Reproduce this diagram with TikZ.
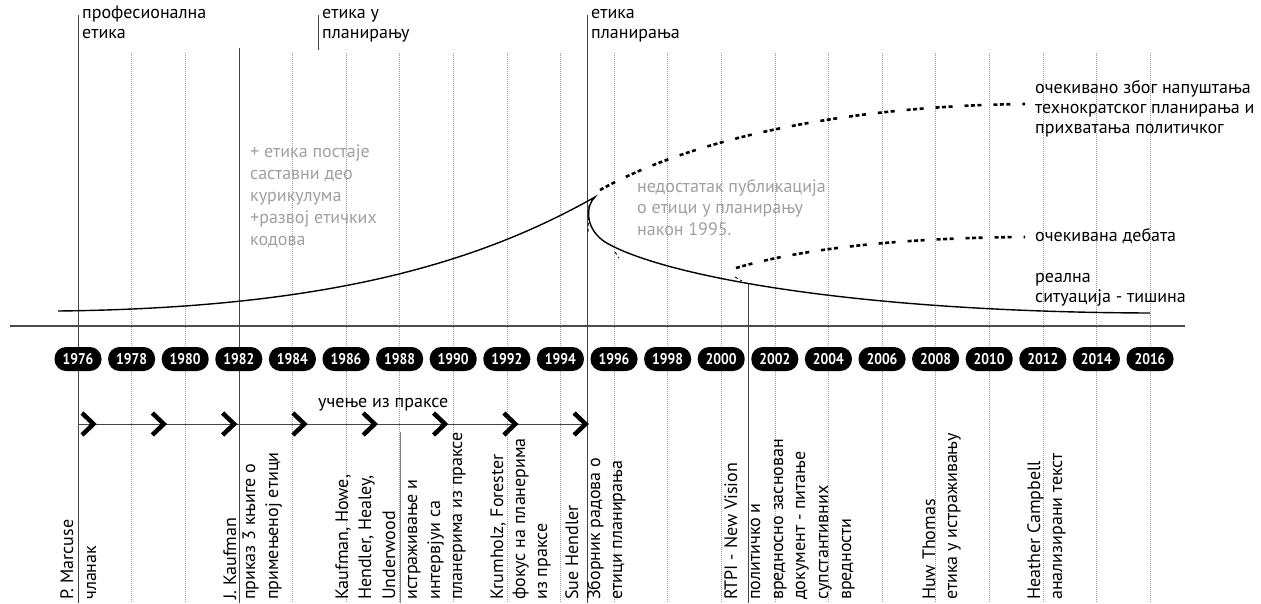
\documentclass[tikz,border=0pt]{standalone}
\usepackage{fontspec}
\setmainfont{PT Sans}
\newfontfamily\pillfont[FakeStretch=0.88]{PT Sans}
\definecolor{txtgrey}{HTML}{A0A0A0}
\definecolor{linegrey}{HTML}{444444}
\begin{document}
\begin{tikzpicture}[x=1pt,y=-1pt,
  gridline/.style={draw=black!40, line width=0.5pt, dash pattern=on 1pt off 1pt},
  mainline/.style={draw=linegrey, line width=0.9pt},
  pill/.style={fill=black, text=white, rounded corners=11.5pt, minimum width=47pt,
    minimum height=24pt, inner sep=0pt, font=\pillfont\bfseries\fontsize{15.5}{15.5}\selectfont},
  lbl/.style={font=\fontsize{18}{22}\selectfont, inner sep=0pt, anchor=base west},
  vlbl/.style={lbl, rotate=90},
  greylbl/.style={lbl, text=txtgrey},
  chev/.style={line width=4.5pt, line join=miter, line cap=butt},
  realcurve/.style={line width=1.4pt},
  dotcurve/.style={line width=2.6pt, dash pattern=on 4pt off 2.5pt on 4pt off 2.5pt on 4pt off 12pt},
  stray/.style={line width=0.9pt, dash pattern=on 3pt off 3pt}]
\useasboundingbox (0,0) rectangle (1261,603);

% grid lines
\foreach \yr in {1978,1980,1984,1986,1988,1990,1992,1994,1996,1998,2000,2002,2004,2006,2008,2010,2012,2014,2016}
  \draw[gridline] ({78+26.8*(\yr-1976)},53) -- ({78+26.8*(\yr-1976)},603);

% axis
\coordinate (axL) at (10,326);
\coordinate (axR) at (1185,326);
\draw[draw=black!70, line width=1.6pt] (axL) -- (axR);

% main vertical lines
\coordinate (v76t) at (78,15);   \coordinate (v76b) at (78,603);
\coordinate (v82t) at (239,48);  \coordinate (v82b) at (239,603);
\coordinate (v85t) at (318,15);  \coordinate (v85b) at (318,50);
\coordinate (v95t) at (587,15);  \coordinate (v95b) at (587,603);
\coordinate (v01t) at (748,283); \coordinate (v01b) at (748,603);
\coordinate (v88t) at (400,432); \coordinate (v88b) at (400,603);
\draw[mainline] (v76t) -- (v76b);
\draw[mainline] (v82t) -- (v82b);
\draw[mainline] (v85t) -- (v85b);
\draw[mainline] (v95t) -- (v95b);
\draw[mainline] (v01t) -- (v01b);
\draw[draw=black!50, line width=0.9pt] (v88t) -- (v88b);

% top labels
\node[lbl] (tl1a) at (82,18) {професионална};
\node[lbl] (tl1b) at (82,38) {етика};
\node[lbl] (tl2a) at (322,18) {етика у};
\node[lbl] (tl2b) at (322,38) {планирању};
\node[lbl] (tl3a) at (591,18) {етика};
\node[lbl] (tl3b) at (591,38) {планирања};

% curves
\coordinate (cStart) at (58,311);
\coordinate (cPeak) at (595,197);
\coordinate (cTurn) at (605,242);
\coordinate (cEnd) at (1150,313);
\draw[realcurve] (cStart) .. controls (330,308) and (480,262) .. (cPeak)
  .. controls (586,205) and (584,228) .. (cTurn)
  .. controls (660,275) and (850,312) .. (cEnd);

\coordinate (uStart) at (600,190);
\coordinate (uEnd) at (1025,104);
\draw[dotcurve] (uStart) .. controls (690,140) and (840,106) .. (uEnd);
\coordinate (lStart) at (736,268);
\coordinate (lEnd) at (1025,237);
\draw[dotcurve] (lStart) .. controls (790,252) and (880,238) .. (lEnd);

\coordinate (s1a) at (589,205); \coordinate (s1b) at (588,232);
\draw[stray] (s1a) -- (s1b);
\coordinate (s2a) at (615,252); \coordinate (s2b) at (619,258);
\draw[stray] (s2a) -- (s2b);
\coordinate (s3a) at (735,277); \coordinate (s3b) at (742,281);
\draw[stray] (s3a) -- (s3b);

% right labels
\node[lbl] (r1) at (1035,93) {очекивано због напуштања};
\node[lbl] (r2) at (1035,113) {технократског планирања и};
\node[lbl] (r3) at (1035,133) {прихватања политичког};
\node[lbl] (r4) at (1035,241) {очекивана дебата};
\node[lbl] (r5) at (1035,282) {реална};
\node[lbl] (r6) at (1035,302) {ситуација - тишина};

% grey labels
\node[greylbl] (g1) at (250,157) {+ етика постаје};
\node[greylbl] (g2) at (250,179) {саставни део};
\node[greylbl] (g3) at (250,201) {курикулума};
\node[greylbl] (g4) at (250,223) {+развој етичких};
\node[greylbl] (g5) at (250,245) {кодова};
\node[greylbl] (g6) at (637,192) {недостатак публикација};
\node[greylbl] (g7) at (637,213.5) {о етици у планирању};
\node[greylbl] (g8) at (637,235) {након 1995.};

% year pills
\foreach \yr in {1976,1978,...,2016}
  \node[pill] (p\yr) at ({78+26.8*(\yr-1976)},359) {\yr};

% learning from practice
\node[lbl] (ucenje) at (318,407) {учење из праксе};
\coordinate (tlS) at (78,424);
\coordinate (tlE) at (587,424);
\draw[mainline] (tlS) -- (tlE);
\foreach \i in {0,...,7}
  \draw[chev] ({88+70.3*\i-6},413) -- ({88+70.3*\i+5.5},424) -- ({88+70.3*\i-6},435);

% rotated bottom labels
\node[vlbl] (b01) at (73,600) {P. Marcuse};
\node[vlbl] (b02) at (96,600) {чланак};
\node[vlbl] (b03) at (236,600) {J. Kaufman};
\node[vlbl] (b04) at (255,600) {приказ 3 књиге о};
\node[vlbl] (b05) at (278,600) {примењеној етици};
\node[vlbl] (b06) at (348,600) {Kaufman, Howe,};
\node[vlbl] (b07) at (371,600) {Hendler, Healey,};
\node[vlbl] (b08) at (395,600) {Underwood};
\node[vlbl] (b09) at (417,600) {истраживање и};
\node[vlbl] (b10) at (440,600) {интервјуи са};
\node[vlbl] (b11) at (462,600) {планерима из праксе};
\node[vlbl] (b12) at (503,600) {Krumholz, Forester};
\node[vlbl] (b13) at (525,600) {фокус на планерима};
\node[vlbl] (b14) at (547,600) {из праксе};
\node[vlbl] (b15) at (578,600) {Sue Hendler};
\node[vlbl] (b16) at (600,600) {Зборник радова о};
\node[vlbl] (b17) at (622,600) {етици планирања};
\node[vlbl] (b18) at (737,600) {RTPI - New Vision};
\node[vlbl] (b19) at (760,600) {политичко и};
\node[vlbl] (b20) at (783,600) {вредносно заснован};
\node[vlbl] (b21) at (805,600) {документ - питање};
\node[vlbl] (b22) at (828,600) {супстантивних};
\node[vlbl] (b23) at (851,600) {вредности};
\node[vlbl] (b24) at (935,600) {Huw Thomas};
\node[vlbl] (b25) at (957,600) {етика у истраживању};
\node[vlbl] (b26) at (1040,600) {Heather Campbell};
\node[vlbl] (b27) at (1062,600) {анализирани текст};
\end{tikzpicture}
\end{document}
